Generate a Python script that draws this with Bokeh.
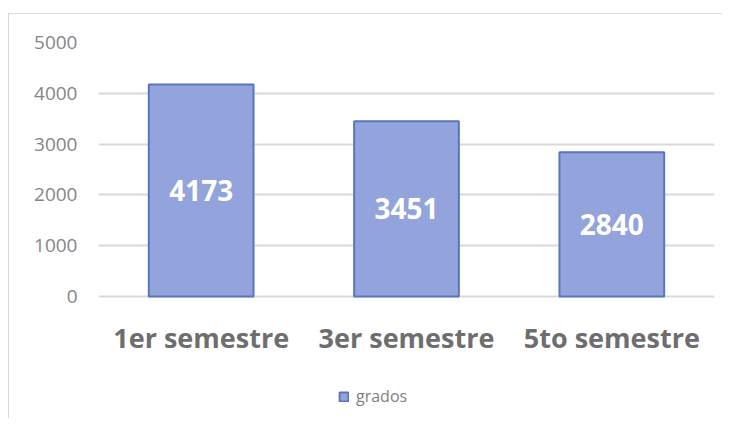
from bokeh.plotting import figure
from bokeh.models import ColumnDataSource, FactorRange, Range1d, Legend, LegendItem, FixedTicker
from bokeh.core.properties import value
from bokeh.embed import file_html
from bokeh.resources import INLINE

categories = ["1er semestre", "3er semestre", "5to semestre"]
grados = [4173, 3451, 2840]
series_name = "grados"
y_ticks = [0, 1000, 2000, 3000, 4000, 5000]

src = ColumnDataSource(dict(
    x=categories,
    top=grados,
    mid=[v / 2 for v in grados],
    label=[str(v) for v in grados],
    base=[0] * len(categories),
))

p = figure(
    x_range=FactorRange(factors=categories, range_padding=0),
    y_range=Range1d(-2340, 5000),
    width=714, height=405,
    output_backend="svg", toolbar_location=None,
    min_border_left=89, min_border_right=9, min_border_top=28, min_border_bottom=4,
)
p.styles = {"margin-top": "13px", "margin-left": "8px",
            "border-left": "1px solid #dcdcdc", "border-top": "1px solid #dcdcdc"}
p.outline_line_color = None
p.background_fill_color = "white"
p.border_fill_color = "white"

r = p.vbar(x="x", top="top", bottom="base", width=0.51, source=src,
           fill_color="#93a4dc", line_color="#5a75bf", line_width=2)

# value labels inside bars
p.text(x="x", y="mid", text="label", source=src,
       text_font=value("Open Sans"), text_font_style="bold", text_font_size="28px",
       text_color="white", text_align="center", text_baseline="middle")

# category labels under the baseline
p.text(x="x", y="base", text="x", source=src, y_offset=41,
       text_font=value("Open Sans"), text_font_style="bold", text_font_size="27px",
       text_color="#6e6e6e", text_align="center", text_baseline="middle")

p.xgrid.grid_line_color = None
p.ygrid.grid_line_color = "#d9d9d9"
p.ygrid.grid_line_width = 2
p.ygrid.ticker = FixedTicker(ticks=y_ticks)

p.yaxis.ticker = FixedTicker(ticks=y_ticks)
p.yaxis.axis_line_color = None
p.yaxis.major_tick_line_color = None
p.yaxis.minor_tick_line_color = None
p.yaxis.major_label_text_font = "Open Sans"
p.yaxis.major_label_text_font_size = "19px"
p.yaxis.major_label_text_color = "#858585"
p.yaxis.major_label_standoff = 15

p.xaxis.visible = False

legend = Legend(items=[LegendItem(label=series_name, renderers=[r])],
                location=(240, 8), orientation="horizontal",
                glyph_width=11, glyph_height=11, label_standoff=7,
                label_text_font="Open Sans", label_text_font_size="16px",
                label_text_color="#808080", border_line_color=None,
                background_fill_alpha=0, padding=0, margin=0)
p.add_layout(legend, "center")

open("out.html", "w").write(file_html(p, INLINE))
